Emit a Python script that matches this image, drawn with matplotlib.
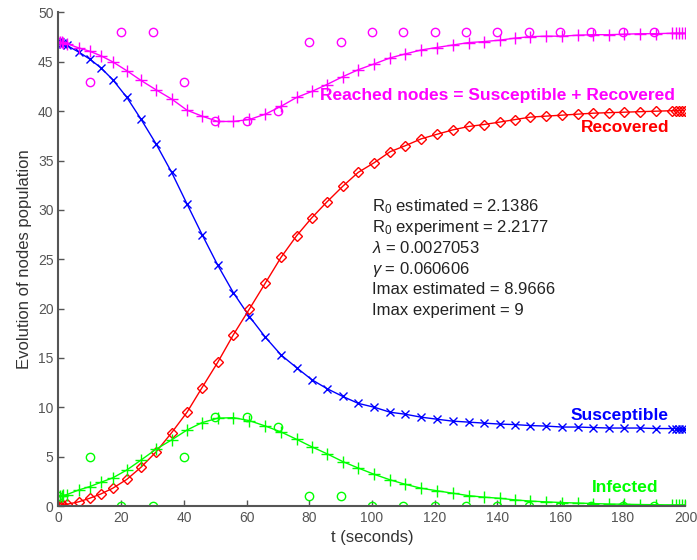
import matplotlib
matplotlib.use("Agg")
import matplotlib.pyplot as plt

plt.rcParams['font.family'] = ['Liberation Sans', 'DejaVu Sans']
plt.rcParams['mathtext.fontset'] = 'custom'
plt.rcParams['mathtext.rm'] = 'Liberation Sans'
plt.rcParams['mathtext.it'] = 'Liberation Sans:italic'

# model output times (solver steps)
t = [0, 0.5, 1.0, 1.6, 2.6, 6.4, 9.9, 13.5, 17.3, 21.8, 26.3, 31.1, 36.1, 41.0,
     45.8, 50.8, 55.8, 60.9, 66.0, 71.0, 76.0, 80.8, 85.6, 90.7, 95.6, 100.8,
     105.8, 110.6, 115.7, 120.6, 125.7, 130.8, 135.7, 140.8, 145.6, 150.5,
     155.5, 160.7, 165.6, 170.6, 175.6, 180.5, 185.5, 190.5, 195.8, 197.0,
     198.0, 199.0, 200.0]

susceptible = [47.0, 46.97, 46.9, 46.82, 46.68, 46.0, 45.3, 44.4, 43.2, 41.4,
               39.2, 36.7, 33.8, 30.6, 27.5, 24.4, 21.6, 19.2, 17.1, 15.3, 14.0,
               12.8, 11.9, 11.1, 10.4, 10.0, 9.5, 9.3, 9.0, 8.8, 8.6, 8.5, 8.4,
               8.3, 8.25, 8.15, 8.1, 8.0, 8.0, 7.95, 7.9, 7.9, 7.9, 7.85, 7.85,
               7.85, 7.85, 7.85, 7.85]

infected = [1.0, 1.03, 1.05, 1.08, 1.15, 1.62, 1.96, 2.4, 2.85, 3.65, 4.65,
            5.75, 6.7, 7.7, 8.45, 8.9, 8.95, 8.65, 8.1, 7.5, 6.75, 6.0, 5.3,
            4.5, 3.85, 3.2, 2.65, 2.2, 1.8, 1.55, 1.3, 1.05, 0.9, 0.78, 0.62,
            0.5, 0.42, 0.35, 0.3, 0.25, 0.2, 0.18, 0.15, 0.13, 0.11, 0.11, 0.1,
            0.1, 0.1]

recovered = [0, 0.03, 0.06, 0.1, 0.17, 0.42, 0.78, 1.22, 1.8, 2.7, 3.92, 5.47,
             7.43, 9.5, 12.0, 14.56, 17.36, 19.96, 22.6, 25.2, 27.4, 29.2, 30.8,
             32.4, 33.8, 34.8, 35.9, 36.5, 37.2, 37.65, 38.1, 38.45, 38.65, 38.9,
             39.15, 39.4, 39.5, 39.6, 39.7, 39.8, 39.85, 39.9, 39.95, 40.0,
             40.05, 40.05, 40.05, 40.05, 40.05]

reached = [s + r for s, r in zip(susceptible, recovered)]

# experiment samples
t_exp = [0, 10, 20, 30, 40, 50, 60, 70, 80, 90, 100, 110, 120, 130, 140, 150,
         160, 170, 180, 190]
reached_exp = [47, 43, 48, 48, 43, 39, 39, 40, 47, 47, 48, 48, 48, 48, 48, 48,
               48, 48, 48, 48]
infected_exp = [1, 5, 0, 0, 5, 9, 9, 8, 1, 1, 0, 0, 0, 0, 0, 0, 0, 0, 0, 0]

info = [r'R$_0$ estimated = 2.1386',
        r'R$_0$ experiment = 2.2177',
        r'$\lambda$ = 0.0027053',
        r'$\gamma$ = 0.060606',
        'Imax estimated = 8.9666',
        'Imax experiment = 9']

fig = plt.figure(figsize=(6.97, 5.6), dpi=100)
ax = fig.add_axes([0.0839, 0.0964, 0.8996, 0.8813])

ax.plot(t_exp, reached_exp, 'o', color='#ff00ff', mfc='none', ms=6, mew=1)
ax.plot(t_exp, infected_exp, 'o', color='#00ff00', mfc='none', ms=6, mew=1)

ax.plot(t, susceptible, '-x', color='#0000ff', lw=1, ms=6, mew=1)
ax.plot(t, recovered, '-D', color='#ff0000', lw=1, ms=5.5, mew=1, mfc='none')
ax.plot(t, infected, '-+', color='#00ff00', lw=1, ms=8, mew=1)
ax.plot(t, reached, '-+', color='#ff00ff', lw=1, ms=8, mew=1)

ax.text(140, 41.6, 'Reached nodes = Susceptible + Recovered', color='#ff00ff',
        fontsize=12.5, fontweight='bold', ha='center', va='center')
ax.text(180.9, 38.3, 'Recovered', color='#ff0000', fontsize=12.5,
        fontweight='bold', ha='center', va='center')
ax.text(179, 9.15, 'Susceptible', color='#0000ff', fontsize=12.5,
        fontweight='bold', ha='center', va='center')
ax.text(180.7, 1.85, 'Infected', color='#00ff00', fontsize=12.5,
        fontweight='bold', ha='center', va='center')

for i, line in enumerate(info):
    ax.text(100, 30.3 - i * 2.1, line, fontsize=12, color='#222222',
            ha='left', va='center')

ax.set_xlim(0, 200)
ax.set_ylim(0, 50)
ax.set_xticks(range(0, 201, 20))
ax.set_yticks(range(0, 51, 5))
ax.spines['top'].set_visible(False)
ax.spines['right'].set_visible(False)
for sp in ('left', 'bottom'):
    ax.spines[sp].set_color('#555555')
    ax.spines[sp].set_linewidth(1.5)
ax.tick_params(direction='in', length=4, width=1, colors='#555555',
               labelsize=10, labelcolor='#555555')
ax.set_xlabel('t (seconds)', fontsize=12, color='#333333')
ax.set_ylabel('Evolution of nodes population', fontsize=12, color='#333333')

plt.savefig('out.png', dpi=100)
